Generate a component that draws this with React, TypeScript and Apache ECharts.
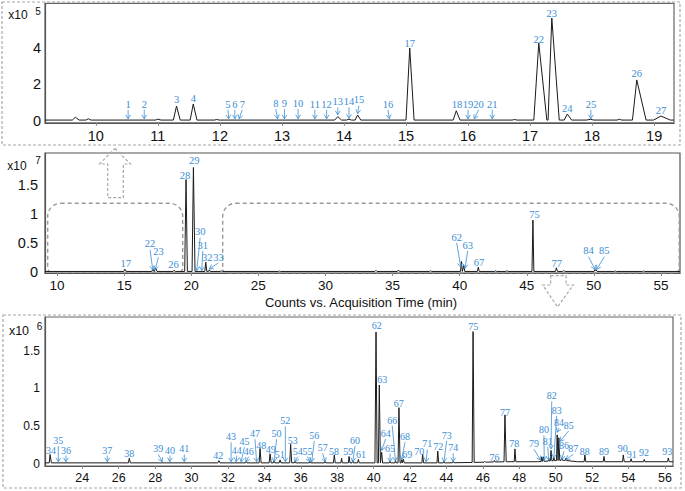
import React, { useEffect, useRef } from "react";
import * as echarts from "echarts";

// ---------- Panel 1 (top): 9.2-19.3 min, counts x10^5 ----------
const topTicksX = [10, 11, 12, 13, 14, 15, 16, 17, 18, 19];
const topTicksY = [0, 2, 4];
const topBase = [[9.18, 0.05], [19.32, 0.05]];
// [retention time, height above baseline, left half-width, right half-width]
const topPeaks = [
  [9.67, 0.15, 0.05, 0.06], [9.88, 0.07, 0.04, 0.04], [11.0, 0.05, 0.04, 0.05],
  [11.3, 0.77, 0.05, 0.06], [11.57, 0.88, 0.05, 0.06], [11.95, 0.03, 0.04, 0.04],
  [13.9, 0.19, 0.05, 0.06], [14.08, 0.05, 0.04, 0.04], [14.22, 0.28, 0.04, 0.05],
  [15.06, 3.95, 0.06, 0.07], [15.81, 0.51, 0.05, 0.06], [16.75, 0.03, 0.04, 0.04],
  [17.14, 4.22, 0.08, 0.13], [17.35, 5.59, 0.06, 0.12], [17.6, 0.33, 0.05, 0.07],
  [17.97, 0.04, 0.06, 0.06], [18.44, 0.04, 0.04, 0.04], [18.72, 2.2, 0.07, 0.15],
  [19.11, 0.22, 0.12, 0.15],
];
// [label, label time, label value, arrow-tip time, arrow-tip value]
const topLabels: any[] = [
  ["1", 10.52, 0.93, 10.52, 0.12], ["2", 10.78, 0.93, 10.78, 0.12],
  ["3", 11.3, 1.19, null, null], ["4", 11.57, 1.22, null, null],
  ["5", 12.13, 0.93, 12.14, 0.12], ["6", 12.24, 0.93, 12.24, 0.12],
  ["7", 12.36, 0.93, 12.31, 0.12], ["8", 12.9, 0.97, 12.93, 0.12],
  ["9", 13.04, 0.97, 13.04, 0.12], ["10", 13.26, 0.97, 13.26, 0.12],
  ["11", 13.53, 0.93, 13.53, 0.12], ["12", 13.72, 0.93, 13.72, 0.12],
  ["13", 13.9, 1.06, 13.9, 0.34], ["14", 14.08, 1.06, 14.08, 0.14],
  ["15", 14.24, 1.15, 14.22, 0.4], ["16", 14.71, 0.93, 14.73, 0.12],
  ["17", 15.06, 4.26, null, null], ["18", 15.82, 0.93, null, null],
  ["19", 16.0, 0.93, 16.0, 0.12], ["20", 16.17, 0.93, 16.1, 0.12],
  ["21", 16.39, 0.93, 16.39, 0.12], ["22", 17.14, 4.48, null, null],
  ["23", 17.35, 5.9, null, null], ["24", 17.6, 0.7, null, null],
  ["25", 17.98, 0.93, 17.98, 0.12], ["26", 18.72, 2.58, null, null],
  ["27", 19.11, 0.6, null, null],
];

// ---------- Panel 2 (middle): full run, counts x10^7 ----------
const midTicksX = [10, 15, 20, 25, 30, 35, 40, 45, 50, 55];
const midTicksY = [0, 0.5, 1, 1.5];
const midBase = [[9.1, 0.004], [56.42, 0.004]];
const midPeaks = [
  [15.06, 0.04, 0.1, 0.1], [17.14, 0.043, 0.08, 0.1], [17.35, 0.056, 0.08, 0.1],
  [18.72, 0.022, 0.08, 0.1], [19.61, 1.59, 0.1, 0.1], [20.16, 1.8, 0.1, 0.12],
  [21.08, 0.16, 0.07, 0.08], [21.35, 0.03, 0.06, 0.06], [22.23, 0.012, 0.08, 0.08],
  [26.58, 0.008, 0.08, 0.08], [33.76, 0.02, 0.08, 0.08], [35.44, 0.025, 0.08, 0.08],
  [37.84, 0.011, 0.08, 0.08], [40.13, 0.173, 0.07, 0.07], [40.31, 0.103, 0.06, 0.07],
  [41.39, 0.073, 0.07, 0.07], [42.69, 0.012, 0.07, 0.07], [43.52, 0.015, 0.07, 0.07],
  [45.46, 0.89, 0.07, 0.07], [47.21, 0.063, 0.07, 0.08], [47.76, 0.018, 0.07, 0.07],
  [50.08, 0.035, 0.06, 0.06], [50.17, 0.03, 0.06, 0.07], [51.6, 0.009, 0.07, 0.07],
  [53.71, 0.009, 0.07, 0.07],
];
const midLabels: any[] = [
  ["17", 15.12, 0.145, null, null], ["22", 16.93, 0.48, 17.13, 0.03],
  ["23", 17.55, 0.35, 17.3, 0.03], ["26", 18.67, 0.13, null, null],
  ["28", 19.54, 1.66, null, null], ["29", 20.23, 1.92, null, null],
  ["30", 20.66, 0.69, 20.41, 0.02], ["31", 20.86, 0.46, 20.78, 0.02],
  ["32", 21.2, 0.25, null, null], ["33", 22.02, 0.25, 21.35, 0.05],
  ["62", 39.78, 0.6, 40.08, 0.08], ["63", 40.6, 0.46, 40.4, 0.06],
  ["67", 41.45, 0.16, null, null], ["75", 45.57, 0.99, null, null],
  ["77", 47.23, 0.145, null, null], ["84", 49.6, 0.36, 50.09, 0.04],
  ["85", 50.78, 0.36, 50.21, 0.04],
];

// ---------- Panel 3 (bottom): 22-56.4 min, counts x10^6 ----------
const botTicksX = [24, 26, 28, 30, 32, 34, 36, 38, 40, 42, 44, 46, 48, 50, 52, 54, 56];
const botTicksY = [0, 0.5, 1, 1.5];
const botBase = [
  [21.95, 0.015], [44, 0.015], [45.3, 0.02], [47.3, 0.03], [49, 0.03],
  [50.4, 0.05], [51.2, 0.03], [56.45, 0.03],
];
const botPeaks = [
  [22.23, 0.11, 0.05, 0.07], [26.58, 0.06, 0.05, 0.06], [31.5, 0.03, 0.06, 0.06],
  [33.0, 0.015, 0.04, 0.04], [33.76, 0.19, 0.05, 0.06], [34.31, 0.12, 0.05, 0.06],
  [34.53, 0.03, 0.04, 0.04], [34.86, 0.04, 0.05, 0.05], [35.44, 0.245, 0.05, 0.06],
  [35.68, 0.02, 0.04, 0.04], [36.5, 0.02, 0.04, 0.04], [37.33, 0.02, 0.04, 0.04],
  [37.84, 0.105, 0.05, 0.05], [38.24, 0.06, 0.04, 0.04], [38.65, 0.085, 0.04, 0.05],
  [38.85, 0.03, 0.04, 0.04], [39.16, 0.045, 0.04, 0.05], [40.13, 1.73, 0.06, 0.06],
  [40.31, 1.03, 0.05, 0.06], [40.44, 0.14, 0.04, 0.05], [40.9, 0.02, 0.04, 0.04],
  [41.2, 0.03, 0.04, 0.04], [41.39, 0.73, 0.05, 0.06], [41.54, 0.04, 0.04, 0.04],
  [41.63, 0.05, 0.04, 0.05], [42.69, 0.115, 0.04, 0.05], [43.52, 0.155, 0.04, 0.05],
  [43.86, 0.02, 0.04, 0.04], [44.37, 0.02, 0.04, 0.04], [45.46, 1.73, 0.05, 0.06],
  [46.1, 0.01, 0.04, 0.04], [46.63, 0.02, 0.04, 0.05], [47.21, 0.62, 0.05, 0.07],
  [47.76, 0.17, 0.04, 0.05], [49.23, 0.06, 0.03, 0.04], [49.32, 0.06, 0.03, 0.04],
  [49.62, 0.03, 0.04, 0.04], [49.74, 0.14, 0.04, 0.05], [49.9, 0.04, 0.04, 0.04],
  [50.08, 0.34, 0.04, 0.05], [50.17, 0.3, 0.04, 0.05], [50.33, 0.03, 0.04, 0.04],
  [50.56, 0.03, 0.04, 0.04], [51.6, 0.09, 0.04, 0.05], [52.65, 0.07, 0.04, 0.05],
  [53.71, 0.09, 0.04, 0.05], [54.14, 0.04, 0.04, 0.04], [54.86, 0.03, 0.04, 0.04],
  [56.18, 0.05, 0.04, 0.05],
];
const botLabels: any[] = [
  ["34", 22.28, 0.176, null, null], ["35", 22.68, 0.31, 22.68, 0.03],
  ["36", 23.1, 0.185, 23.1, 0.03], ["37", 25.37, 0.185, 25.37, 0.03],
  ["38", 26.58, 0.14, null, null], ["39", 28.17, 0.2, 28.39, 0.03],
  ["40", 28.82, 0.185, 28.8, 0.03], ["41", 29.6, 0.2, 29.6, 0.03],
  ["42", 31.47, 0.11, null, null], ["43", 32.17, 0.36, 32.17, 0.03],
  ["44", 32.48, 0.185, 32.45, 0.03], ["45", 32.9, 0.295, 32.72, 0.03],
  ["46", 33.14, 0.17, 32.98, 0.03], ["47", 33.48, 0.4, 33.57, 0.03],
  ["48", 33.83, 0.25, null, null], ["49", 34.35, 0.19, null, null],
  ["50", 34.67, 0.4, 34.53, 0.03], ["51", 34.84, 0.13, null, null],
  ["52", 35.15, 0.57, 35.15, 0.03], ["53", 35.55, 0.31, null, null],
  ["54", 35.83, 0.17, 35.68, 0.03], ["55", 36.36, 0.17, 36.5, 0.03],
  ["56", 36.74, 0.375, 36.6, 0.03], ["57", 37.2, 0.215, 37.33, 0.03],
  ["58", 37.82, 0.17, null, null], ["59", 38.6, 0.163, null, null],
  ["60", 38.98, 0.31, 38.85, 0.03], ["61", 39.31, 0.128, null, null],
  ["62", 40.17, 1.825, null, null], ["63", 40.47, 1.12, null, null],
  ["64", 40.66, 0.406, 40.44, 0.18], ["65", 40.9, 0.21, 40.9, 0.03],
  ["66", 41.02, 0.58, 41.2, 0.04], ["67", 41.38, 0.8, null, null],
  ["68", 41.72, 0.36, 41.54, 0.06], ["69", 41.85, 0.13, null, null],
  ["70", 42.5, 0.17, null, null], ["71", 42.95, 0.265, 42.88, 0.03],
  ["72", 43.55, 0.23, null, null], ["73", 44.01, 0.38, 43.86, 0.03],
  ["74", 44.37, 0.215, 44.37, 0.03], ["75", 45.47, 1.82, null, null],
  ["76", 46.63, 0.09, null, null], ["77", 47.21, 0.68, null, null],
  ["78", 47.72, 0.265, null, null], ["79", 48.8, 0.27, 49.17, 0.05],
  ["80", 49.35, 0.45, 49.37, 0.05], ["81", 49.56, 0.3, 49.62, 0.05],
  ["82", 49.78, 0.9, 49.74, 0.2], ["83", 50.05, 0.71, 49.9, 0.08],
  ["84", 50.18, 0.55, 50.08, 0.42], ["85", 50.71, 0.51, 50.23, 0.3],
  ["86", 50.45, 0.24, 50.33, 0.06], ["87", 50.96, 0.2, 50.56, 0.06],
  ["88", 51.6, 0.17, null, null], ["89", 52.65, 0.17, null, null],
  ["90", 53.68, 0.2, null, null], ["91", 54.17, 0.128, null, null],
  ["92", 54.85, 0.155, null, null], ["93", 56.12, 0.163, null, null],
];

const BLUE = "#3b8ed3";
const SANS = '"Liberation Sans", Arial, Helvetica, sans-serif';
const SERIF = '"Liberation Serif", "Times New Roman", serif';

function baseAt(base: number[][], t: number) {
  for (let i = 0; i < base.length - 1; i++) {
    const [t0, v0] = base[i];
    const [t1, v1] = base[i + 1];
    if (t >= t0 && t <= t1) return v0 + ((v1 - v0) * (t - t0)) / (t1 - t0);
  }
  return base[base.length - 1][1];
}

function buildTrace(base: number[][], peaks: number[][]) {
  const ts: number[] = [];
  base.forEach((b) => ts.push(b[0]));
  peaks.forEach((p) => ts.push(p[0] - p[2], p[0], p[0] + p[3]));
  const sorted = Array.from(new Set(ts.map((t) => Math.round(t * 10000) / 10000))).sort((a, b) => a - b);
  return sorted.map((t) => {
    let v = baseAt(base, t);
    peaks.forEach(([pt, h, wl, wr]) => {
      if (t >= pt - wl && t <= pt) v += (h * (t - (pt - wl))) / wl;
      else if (t > pt && t <= pt + wr) v += (h * (pt + wr - t)) / wr;
    });
    return [t, v];
  });
}

function annSeries(ann: any[], idx: number, fontSize: number) {
  return {
    type: "custom",
    xAxisIndex: idx,
    yAxisIndex: idx,
    clip: false,
    silent: true,
    z: 5,
    data: ann.map((a) => [a[1], a[2]]),
    encode: { x: 0, y: 1 },
    renderItem: (params: any, api: any) => {
      const a = ann[params.dataIndex];
      const p = api.coord([a[1], a[2]]);
      const children: any[] = [
        {
          type: "text",
          x: p[0],
          y: p[1],
          style: {
            text: a[0],
            fill: BLUE,
            font: `${fontSize}px ${SERIF}`,
            textAlign: "center",
            textVerticalAlign: "middle",
            align: "center",
            verticalAlign: "middle",
          },
        },
      ];
      if (a[3] !== null && a[3] !== undefined) {
        const e = api.coord([a[3], a[4]]);
        const s = [p[0], p[1] + fontSize * 0.55];
        const dx = e[0] - s[0];
        const dy = e[1] - s[1];
        const len = Math.sqrt(dx * dx + dy * dy) || 1;
        const ux = dx / len;
        const uy = dy / len;
        const hl = 4;
        const hw = 2.4;
        const bx = e[0] - ux * hl;
        const by = e[1] - uy * hl;
        children.push({
          type: "line",
          shape: { x1: s[0], y1: s[1], x2: e[0], y2: e[1] },
          style: { stroke: BLUE, lineWidth: 0.8 },
        });
        children.push({
          type: "polyline",
          shape: {
            points: [
              [bx - uy * hw, by + ux * hw],
              [e[0], e[1]],
              [bx + uy * hw, by - ux * hw],
            ],
          },
          style: { stroke: BLUE, lineWidth: 0.8, fill: "none" },
        });
      }
      return { type: "group", children };
    },
  };
}

function xAxis(idx: number, min: number, max: number, ticks: number[], fs: number, margin: number) {
  return {
    type: "value",
    gridIndex: idx,
    min,
    max,
    splitLine: { show: false },
    axisLine: { show: true, onZero: false, lineStyle: { color: "#555", width: 1.2 } },
    axisTick: { show: true, length: 3, customValues: ticks, lineStyle: { color: "#888" } },
    axisLabel: { customValues: ticks, color: "#111", fontSize: fs, fontFamily: SANS, margin },
  };
}

function yAxis(idx: number, min: number, max: number, ticks: number[], fs: number, margin: number) {
  return {
    type: "value",
    gridIndex: idx,
    min,
    max,
    splitLine: { show: false },
    axisLine: { show: true, lineStyle: { color: "#555", width: 1.2 } },
    axisTick: { show: false },
    axisLabel: {
      customValues: ticks,
      color: "#111",
      fontSize: fs,
      fontFamily: SANS,
      margin,
      formatter: (v: number) => String(v),
    },
  };
}

function lineSeries(idx: number, data: number[][]) {
  return {
    type: "line",
    xAxisIndex: idx,
    yAxisIndex: idx,
    data,
    showSymbol: false,
    symbol: "none",
    silent: true,
    lineStyle: { color: "#1a1a1a", width: 1 },
  };
}

const dashGray = { fill: "none", stroke: "#a8a8a8", lineWidth: 1.2, lineDash: [3, 2] };
const dashRound = { fill: "none", stroke: "#9a9a9a", lineWidth: 1.4, lineDash: [4, 3] };
const centered = { textAlign: "center", textVerticalAlign: "middle", align: "center", verticalAlign: "middle" };

export default function App() {
  const ref = useRef<HTMLDivElement>(null);
  useEffect(() => {
    if (!ref.current) return;
    const chart = echarts.init(ref.current, null, { renderer: "svg" });
    const option: any = {
      animation: false,
      backgroundColor: "#ffffff",
      grid: [
        { left: 45, top: 3.3, width: 629, height: 119.5, show: true, borderColor: "#666", borderWidth: 1.2, backgroundColor: "transparent" },
        { left: 45, top: 153, width: 635, height: 120, show: true, borderColor: "#555", borderWidth: 1.2, backgroundColor: "transparent" },
        { left: 45, top: 317, width: 628, height: 149, show: true, borderColor: "#666", borderWidth: 1.2, backgroundColor: "transparent" },
      ],
      xAxis: [
        xAxis(0, 9.18, 19.32, topTicksX, 14.5, 6),
        xAxis(1, 9.1, 56.42, midTicksX, 13.5, 5),
        xAxis(2, 21.95, 56.44, botTicksX, 12.5, 5),
      ],
      yAxis: [
        yAxis(0, -0.1, 6.45, topTicksY, 14.5, 4),
        yAxis(1, -0.0225, 2.054, midTicksY, 14.5, 7),
        yAxis(2, -0.0265, 1.944, botTicksY, 12, 5),
      ],
      series: [
        lineSeries(0, buildTrace(topBase, topPeaks)),
        lineSeries(1, buildTrace(midBase, midPeaks)),
        lineSeries(2, buildTrace(botBase, botPeaks)),
        annSeries(topLabels, 0, 10.5),
        annSeries(midLabels, 1, 10.5),
        annSeries(botLabels, 2, 10),
      ],
      graphic: [
        { type: "rect", silent: true, z: 1, shape: { x: 2, y: 2, width: 678, height: 143 }, style: dashGray },
        { type: "rect", silent: true, z: 1, shape: { x: 3, y: 315, width: 678, height: 173 }, style: dashGray },
        { type: "rect", silent: true, z: 1, shape: { x: 47.7, y: 203.3, width: 135, height: 69, r: [13, 13, 4, 4] }, style: dashRound },
        { type: "rect", silent: true, z: 1, shape: { x: 222.7, y: 203.3, width: 456.5, height: 69.4, r: [13, 13, 4, 4] }, style: dashRound },
        {
          type: "polygon", silent: true, z: 1,
          shape: { points: [[115, 148.5], [130.5, 164], [123.3, 164], [123.3, 197.7], [107.7, 197.7], [107.7, 164], [99.5, 164]] },
          style: dashGray,
        },
        {
          type: "polygon", silent: true, z: 1,
          shape: { points: [[550.7, 275.7], [566, 275.7], [566, 285], [573.3, 285], [557.5, 307], [542.7, 285], [550.7, 285]] },
          style: dashGray,
        },
        { type: "text", silent: true, style: { text: "Counts vs. Acquisition Time (min)", x: 361, y: 302.5, fill: "#111", font: `13px ${SANS}`, ...centered } },
        { type: "text", silent: true, style: { text: "x10", x: 18, y: 15, fill: "#111", font: `12px ${SANS}`, ...centered } },
        { type: "text", silent: true, style: { text: "5", x: 38, y: 11, fill: "#111", font: `10px ${SANS}`, ...centered } },
        { type: "text", silent: true, style: { text: "x10", x: 17, y: 166, fill: "#111", font: `12px ${SANS}`, ...centered } },
        { type: "text", silent: true, style: { text: "7", x: 38, y: 160, fill: "#111", font: `10px ${SANS}`, ...centered } },
        { type: "text", silent: true, style: { text: "x10", x: 19, y: 331, fill: "#111", font: `12.5px ${SANS}`, ...centered } },
        { type: "text", silent: true, style: { text: "6", x: 39.5, y: 326, fill: "#111", font: `10px ${SANS}`, ...centered } },
      ],
    };
    chart.setOption(option);
    return () => chart.dispose();
  }, []);
  return <div ref={ref} style={{ position: "absolute", left: 0, top: 0, width: 685, height: 491 }} />;
}
